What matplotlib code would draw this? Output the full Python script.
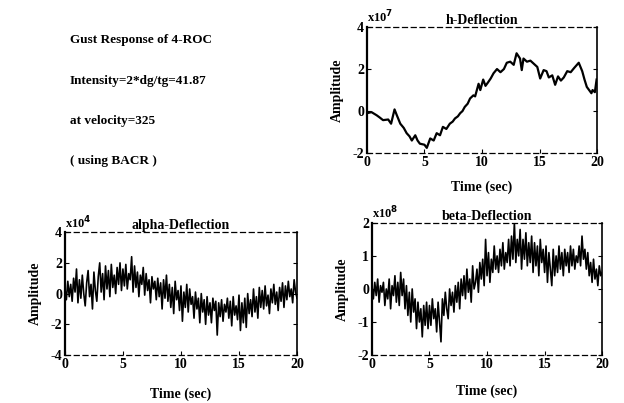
import numpy as np
import matplotlib
matplotlib.use("Agg")
import matplotlib.pyplot as plt

plt.rcParams['font.family'] = ['Liberation Serif', 'DejaVu Serif']
plt.rcParams['font.weight'] = 'bold'
plt.rcParams['axes.titleweight'] = 'bold'
plt.rcParams['axes.labelweight'] = 'bold'
plt.rcParams['axes.unicode_minus'] = False

# h-Deflection (x10^7)
h_time = [0.0, 0.4, 0.85, 1.1, 1.4, 1.85, 2.1, 2.4, 2.6, 2.9, 3.2, 3.45, 3.7, 3.9, 4.2, 4.4,
          4.6, 5.0, 5.2, 5.5, 5.8, 6.06, 6.35, 6.6, 6.9, 7.2, 7.45, 7.65, 7.9, 8.1, 8.3, 8.5,
          8.75, 8.96, 9.25, 9.4, 9.7, 9.85, 10.1, 10.3, 10.5, 10.75, 11.0, 11.3, 11.6, 11.9,
          12.15, 12.45, 12.75, 13.0, 13.3, 13.45, 13.6, 13.9, 14.2, 14.5, 14.8, 15.05, 15.35,
          15.6, 15.8, 16.1, 16.35, 16.6, 16.85, 17.1, 17.4, 17.7, 18.0, 18.4, 18.7, 18.9,
          19.1, 19.3, 19.5, 19.6, 19.8, 19.95]
h_vals = [-0.1, -0.05, -0.2, -0.3, -0.43, -0.4, -0.6, 0.08, -0.2, -0.6, -0.8, -1.05, -1.2,
          -1.4, -1.15, -1.4, -1.55, -1.6, -1.75, -1.3, -1.4, -1.05, -1.15, -0.75, -0.85, -0.6,
          -0.5, -0.35, -0.25, -0.1, 0.0, 0.2, 0.35, 0.6, 0.75, 0.7, 1.3, 1.0, 1.5, 1.2, 1.35,
          1.55, 1.8, 2.0, 1.85, 2.0, 2.3, 2.35, 2.2, 2.75, 2.5, 1.95, 2.5, 2.35, 2.4, 2.25,
          2.1, 1.55, 1.95, 1.9, 1.6, 1.7, 1.25, 1.65, 1.45, 1.6, 1.9, 1.85, 2.05, 2.3, 1.9,
          1.5, 1.15, 1.0, 0.85, 1.0, 0.9, 1.5]

# alpha-Deflection (x10^4), t = 0..20 every 0.125 s
alpha_vals = [
    0.3, -0.4, 0.8, -0.2, 0.6, -0.5, 1.0, 0.1,
    1.6, -0.6, 0.9, -0.3, 1.2, 0.0, -0.8, 0.7,
    1.5, -0.2, 0.6, -1.0, 1.4, 0.2, -0.5, 1.1,
    2.0, 0.1, 1.3, -0.4, 1.8, 0.3, 1.5, -0.2,
    1.9, 0.4, 1.2, 0.0, 1.7, 0.6, 2.0, 0.2,
    1.6, 0.5, 1.9, 0.3, 1.3, 0.9, 2.4, 0.1,
    1.8, 0.4, 1.4, -0.2, 1.2, 0.6, 1.7, -0.1,
    1.3, 0.2, 0.9, -0.6, 1.1, 0.3, 0.8, -0.4,
    1.0, -0.2, 0.7, -1.0, 0.9, -0.3, 1.2, -0.5,
    0.6, -0.9, 0.4, -1.3, 0.8, -0.4, 0.2, -1.1,
    0.5, -1.8, 0.1, -0.9, 0.6, -1.2, 0.3, -0.7,
    -0.2, -1.6, 0.1, -1.0, -0.3, -1.9, 0.0, -1.2,
    -0.4, -2.0, -0.2, -1.4, -0.6, -1.9, -0.3, -1.1,
    -0.5, -2.7, -0.6, -1.5, -0.4, -1.8, -0.7, -1.2,
    -0.3, -1.6, -0.5, -2.1, -0.2, -1.4, -0.8, -1.7,
    -0.1, -2.4, -0.6, -1.9, -0.3, -2.2, 0.0, -1.3,
    -0.4, -1.5, 0.3, -1.2, -0.2, -1.6, 0.4, -0.9,
    0.2, -1.0, 0.5, -0.8, -0.1, -1.3, 0.3, -0.6,
    0.6, -0.7, 0.1, -1.1, 0.4, -0.5, 0.7, -0.9,
    0.5, -0.4, 0.8, -0.2, 0.3, -0.6, 0.9, 0.1,
    -0.3]

# beta-Deflection (x10^8), t = 0..20 every 0.125 s
beta_vals = [
    0.1, -0.3, 0.2, -0.2, 0.3, -0.4, 0.1, -0.1,
    0.2, -0.5, 0.0, -0.3, 0.3, -0.6, 0.1, -0.2,
    0.4, -0.4, 0.2, -0.5, 0.5, -0.2, 0.3, -0.6,
    0.1, -0.8, -0.1, -1.0, 0.0, -0.7, -0.3, -1.2,
    -0.4, -1.0, -0.6, -1.45, -0.5, -1.1, -0.4, -1.2,
    -0.5, -1.1, -0.3, -0.9, -0.6, -1.3, -0.4, -1.0,
    -1.6, -0.3, -0.8, -0.1, -0.6, -0.9, 0.0, -0.5,
    -0.1, -0.7, 0.1, -0.4, 0.2, -0.6, 0.3, -0.2,
    0.4, -0.3, 0.6, -0.1, 0.3, -0.4, 0.7, 0.0,
    0.2, 0.6, -0.1, 0.8, 0.3, 0.9, 0.1, 1.5,
    0.4, 1.1, 0.2, 0.9, 0.5, 1.3, 0.6, 1.0,
    0.5, 1.2, 0.7, 1.4, 0.6, 1.1, 0.8, 1.5,
    0.7, 1.6, 0.9, 2.0, 0.8, 1.5, 1.0, 1.8,
    0.6, 1.5, 0.9, 1.7, 0.7, 1.4, 0.8, 1.6,
    0.5, 1.4, 0.7, 1.3, 0.4, 1.5, 0.8, 1.2,
    0.5, 1.3, 0.2, 1.1, 0.6, 0.1, 1.2, 0.4,
    1.0, 0.5, 1.3, 0.6, 1.1, 0.4, 1.2, 0.7,
    1.1, 0.5, 1.3, 0.7, 1.2, 0.6, 1.0, 0.8,
    1.3, 0.7, 1.6, 0.9, 1.2, 0.6, 1.1, 0.4,
    0.8, 0.2, 0.9, 0.3, 0.6, 0.1, 0.7, 0.4,
    0.5]

noisy_time = np.linspace(0, 20, len(alpha_vals))

x_ticks = [0, 5, 10, 15, 20]
info_lines = ["Gust Response of 4-ROC", "Intensity=2*dg/tg=41.87",
              "at velocity=325", "( using BACR )"]


def style_axes(ax, title, exponent, ylim, yticks, xlab_pad):
    ax.set_xlim(0, 20)
    ax.set_ylim(*ylim)
    ax.set_xticks(x_ticks)
    ax.set_yticks(yticks)
    ax.tick_params(direction='in', length=3, labelsize=10, top=False, right=True, pad=2)
    ax.spines['left'].set_linewidth(1.6)
    ax.spines['right'].set_linewidth(1.2)
    for side in ('top', 'bottom'):
        ax.spines[side].set_linestyle((0, (4, 3)))
        ax.spines[side].set_linewidth(0.9)
    ax.set_title(title, fontsize=10, pad=2)
    ax.text(0.0, 1.01, exponent, transform=ax.transAxes, fontsize=9, ha='left', va='bottom')
    ax.set_xlabel("Time (sec)", fontsize=10, labelpad=xlab_pad)
    ax.set_ylabel("Amplitude", fontsize=10, labelpad=6)


fig = plt.figure(figsize=(6.24, 4.03), dpi=100)

# text block top-left
for i, line in enumerate(info_lines):
    fig.text(0.112, 0.90 - i * 0.1, line, fontsize=9.5, ha='left', va='center')

ax_h = fig.add_axes([0.588, 0.620, 0.369, 0.313])
ax_h.plot(h_time, h_vals, color='black', linewidth=1.6)
style_axes(ax_h, "h-Deflection", "x10$^{7}$", (-2, 4), [-2, 0, 2, 4], 8)

ax_a = fig.add_axes([0.104, 0.119, 0.372, 0.305])
ax_a.plot(noisy_time, alpha_vals, color='black', linewidth=1.2)
style_axes(ax_a, "alpha-Deflection", "x10$^{4}$", (-4, 4), [-4, -2, 0, 2, 4], 12)

ax_b = fig.add_axes([0.596, 0.119, 0.369, 0.328])
ax_b.plot(noisy_time, beta_vals, color='black', linewidth=1.2)
style_axes(ax_b, "beta-Deflection", "x10$^{8}$", (-2, 2), [-2, -1, 0, 1, 2], 10)

fig.savefig("out.png", dpi=100)
